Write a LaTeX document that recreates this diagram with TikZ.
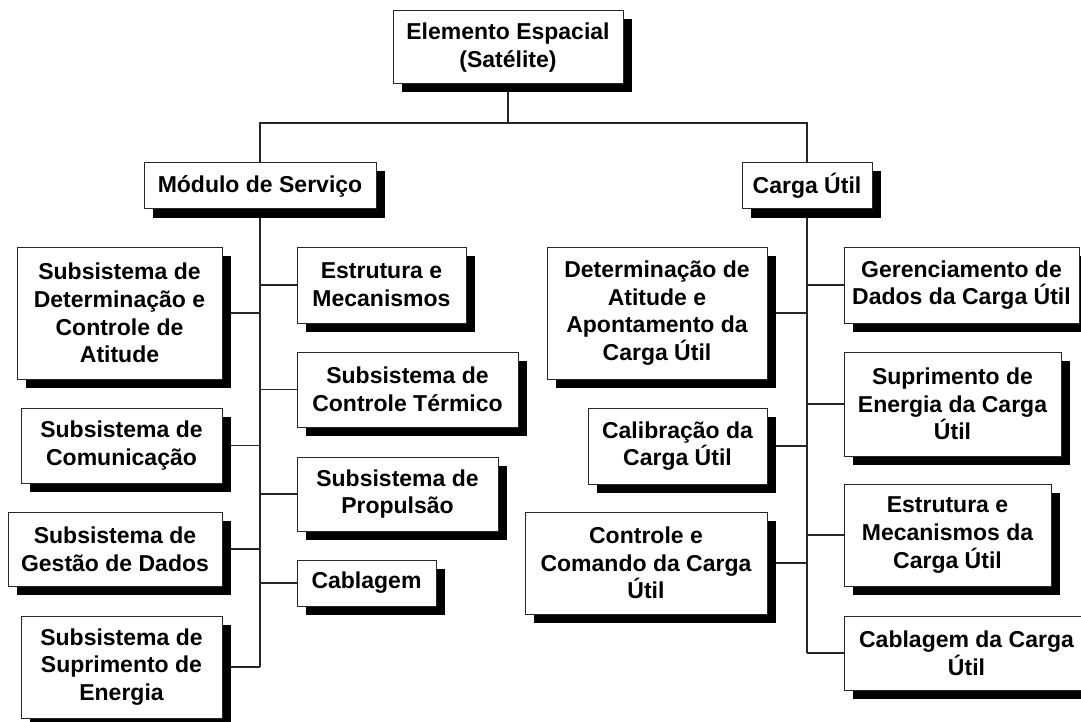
\documentclass[tikz,border=0pt]{standalone}
\usepackage{fontspec}
\setmainfont{Liberation Sans}
\usetikzlibrary{shadows,backgrounds}
\begin{document}
\begin{tikzpicture}[x=1pt,y=-1pt,
  box/.style={draw=black!85, line width=1pt, fill=white, inner sep=0pt, align=center,
    font=\bfseries\fontsize{23}{27.7}\selectfont,
    general shadow={fill=black, shadow xshift=8.5pt, shadow yshift=-8.5pt}},
  link/.style={draw=black!85, line width=1.3pt}]
\useasboundingbox (0,0) rectangle (1081,722);
% top
\node[box, minimum width=230, minimum height=73] (top) at (508,47.5) {Elemento Espacial\\(Satélite)};
\node[box, minimum width=232, minimum height=46] (mod) at (260,186) {Módulo de Serviço};
\node[box, minimum width=130, minimum height=46] (carga) at (807,186) {Carga Útil};
\coordinate (bar) at (508,123);
% left branch, left column
\node[box, minimum width=205, minimum height=132] (det) at (119.5,313) {Subsistema de\\Determinação e\\Controle de\\Atitude};
\node[box, minimum width=201, minimum height=75] (com) at (121.5,445.5) {Subsistema de\\Comunicação};
\node[box, minimum width=214, minimum height=74] (gest) at (115,549) {Subsistema de\\Gestão de Dados};
\node[box, minimum width=201, minimum height=102] (sup) at (121.5,667) {Subsistema de\\Suprimento de\\Energia};
% left branch, right column
\node[box, minimum width=169, minimum height=76] (estr) at (381.5,285) {Estrutura e\\Mecanismos};
\node[box, minimum width=221, minimum height=75] (term) at (407.5,389.5) {Subsistema de\\Controle Térmico};
\node[box, minimum width=201, minimum height=74] (prop) at (397.5,494) {Subsistema de\\Propulsão};
\node[box, minimum width=139, minimum height=46] (cab) at (366.5,583) {Cablagem};
% right branch, left column
\node[box, minimum width=220, minimum height=132] (detcu) at (657,313) {Determinação de\\Atitude e\\Apontamento da\\Carga Útil};
\node[box, minimum width=179, minimum height=76] (cal) at (677.5,446) {Calibração da\\Carga Útil};
\node[box, minimum width=242, minimum height=102] (ctrl) at (646,563) {Controle e\\Comando da Carga\\Útil};
% right branch, right column
\node[box, minimum width=235, minimum height=76] (ger) at (961.5,285) {Gerenciamento de\\Dados da Carga Útil};
\node[box, minimum width=217, minimum height=104] (supcu) at (952.5,404) {Suprimento de\\Energia da Carga\\Útil};
\node[box, minimum width=207, minimum height=102] (estcu) at (947.5,535) {Estrutura e\\Mecanismos da\\Carga Útil};
\node[box, minimum width=245, minimum height=74] (cabcu) at (966.5,653) {Cablagem da Carga\\Útil};
\begin{scope}[on background layer]
  \draw[link] (top.south) -- (bar);
  \draw[link] (mod.north) |- (bar) -| (carga.north);
  \draw[link] (mod.south) -- (mod.south |- sup.east);
  \foreach \n in {det,com,gest,sup} \draw[link] (\n.east) -- (\n.east -| mod.south);
  \foreach \n in {estr,term,prop,cab} \draw[link] (\n.west) -- (\n.west -| mod.south);
  \draw[link] (carga.south) -- (carga.south |- cabcu.west);
  \foreach \n in {detcu,cal,ctrl} \draw[link] (\n.east) -- (\n.east -| carga.south);
  \foreach \n in {ger,supcu,estcu,cabcu} \draw[link] (\n.west) -- (\n.west -| carga.south);
\end{scope}
\end{tikzpicture}
\end{document}
